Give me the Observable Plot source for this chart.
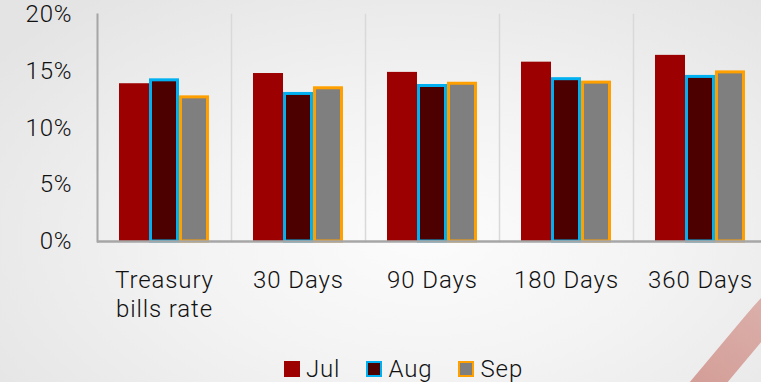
<!DOCTYPE html>
<html>
<head>
<meta charset="utf-8">
<script src="https://cdn.jsdelivr.net/npm/d3@7"></script>
<script src="https://cdn.jsdelivr.net/npm/@observablehq/plot@0.6"></script>
<style>
  html, body { margin: 0; padding: 0; }
  body {
    width: 761px; height: 382px; overflow: hidden; position: relative;
    background: radial-gradient(ellipse 70% 80% at 56% 62%, #fcfcfc 0%, #f3f3f3 45%, #e4e4e4 100%);
    font-family: Roboto, "Liberation Sans", Arial, sans-serif; font-weight: 300;
  }
  #swoosh {
    position: absolute; left: 727px; top: 238px; width: 29px; height: 210px;
    transform: rotate(40deg); border-radius: 40% 0 0 0;
    background: linear-gradient(to bottom, rgba(205,120,110,0.45), rgba(195,105,95,0.65));
  }
  #chart { position: relative; width: 761px; overflow: hidden; }
  #legend {
    position: relative; display: flex; justify-content: center; align-items: center;
    padding-left: 46px; margin-top: 12px; font-size: 24px; letter-spacing: 0.9px; color: #111;
    line-height: 24px;
  }
  .item { display: flex; align-items: center; margin: 0 13px; }
  .sw { width: 16px; height: 16px; box-sizing: border-box; margin-right: 6px; }
</style>
</head>
<body>
<div id="swoosh"></div>
<div id="chart"></div>
<div id="legend"></div>
<script>
const categories = ["Treasury\nbills rate", "30 Days", "90 Days", "180 Days", "360 Days"];
const months = ["Jul", "Aug", "Sep"];
const julValues = [13.9, 14.8, 14.9, 15.8, 16.4];
const augValues = [14.2, 13.0, 13.7, 14.3, 14.5];
const sepValues = [12.7, 13.5, 13.9, 14.0, 14.9];
const yTicks = [0, 5, 10, 15, 20];

const styles = {
  Jul: {fill: "#9c0000", stroke: "none"},
  Aug: {fill: "#4d0000", stroke: "#00b0f0"},
  Sep: {fill: "#7f7f7f", stroke: "#ffa000"}
};

const series = {Jul: julValues, Aug: augValues, Sep: sepValues};
const rows = months.flatMap(m => categories.map((c, i) => ({cat: c, month: m, value: series[m][i]})));

const H = 345;
const plot = Plot.plot({
  width: 769,
  height: H,
  marginLeft: 95,
  marginRight: 0,
  marginTop: 14,
  marginBottom: H - 241,
  style: {background: "transparent", maxWidth: "none", fontFamily: "Roboto, 'Liberation Sans', Arial, sans-serif", fontWeight: 300, fontSize: "24px", color: "#111", letterSpacing: "0.9px"},
  fx: {domain: categories, paddingInner: 0, paddingOuter: 0, label: null},
  x: {domain: months, paddingInner: 0, paddingOuter: 0.698, axis: null},
  y: {domain: [0, 20], label: null},
  marks: [
    Plot.frame({anchor: "left", stroke: "#d9d9d9", strokeWidth: 1.5}),
    Plot.frame({anchor: "left", stroke: "#a6a6a6", strokeWidth: 2, fx: () => categories[0]}),
    ...months.map(m => Plot.barY(rows.filter(r => r.month === m), {
      fx: "cat", x: "month", y: "value",
      fill: styles[m].fill,
      stroke: styles[m].stroke,
      strokeWidth: 3,
      insetLeft: styles[m].stroke === "none" ? 0 : 1.5,
      insetRight: styles[m].stroke === "none" ? 0 : 1.5
    })),
    Plot.ruleY([0], {stroke: "#a6a6a6", strokeWidth: 2.5}),
    Plot.axisY({ticks: yTicks, tickSize: 0, tickPadding: 25, tickFormat: d => d + "%", fontSize: 24, label: null}),
    Plot.axisFx({anchor: "bottom", tickSize: 0, tickPadding: 27, fontSize: 24, lineHeight: 1.17, label: null})
  ]
});
document.getElementById("chart").appendChild(plot);

const legend = document.getElementById("legend");
for (const m of months) {
  const item = document.createElement("div");
  item.className = "item";
  const sw = document.createElement("div");
  sw.className = "sw";
  sw.style.background = styles[m].fill;
  if (styles[m].stroke !== "none") sw.style.border = "2.5px solid " + styles[m].stroke;
  const t = document.createElement("span");
  t.textContent = m;
  item.appendChild(sw);
  item.appendChild(t);
  legend.appendChild(item);
}
</script>
</body>
</html>
